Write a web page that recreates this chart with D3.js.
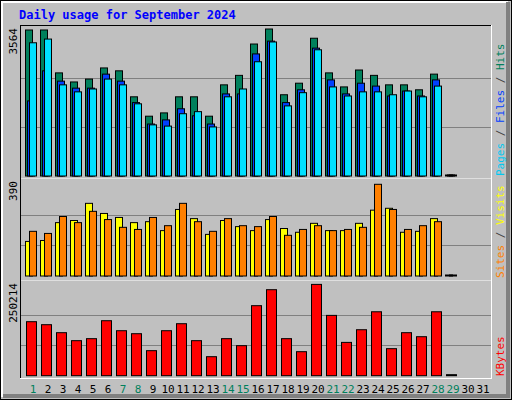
<!DOCTYPE html>
<html><head><meta charset="utf-8">
<script src="https://cdn.jsdelivr.net/npm/d3@7"></script>
<style>body{margin:0;background:#fff}svg{display:block}</style>
</head><body>
<svg width="512" height="400"></svg>
<script>
var days = d3.range(1, 32)
var weekend = [1, 7, 8, 14, 15, 21, 22, 28, 29]
var hits = [3540, 3540, 2500, 2280, 2350, 2620, 2550, 1920, 1450, 1530, 1920, 1920, 1450, 2210, 2440, 3200, 3564, 1970, 2250, 3340, 2500, 2160, 2570, 2440, 2210, 2210, 2090, 2470, 0]
var files = [1820, 2550, 2300, 2130, 2130, 2470, 2300, 1780, 1260, 1360, 1630, 1460, 1260, 1990, 1990, 2960, 3270, 1780, 2090, 3100, 2330, 1990, 2250, 2180, 1940, 2060, 1940, 2330, 0]
var pages = [3230, 3320, 2210, 2040, 2110, 2350, 2210, 1750, 1240, 1210, 1510, 1560, 1190, 1920, 2110, 2770, 3250, 1700, 2020, 3060, 2160, 1940, 2040, 2040, 1970, 2060, 1920, 2180, 0]
var visits = [147, 151, 227, 236, 309, 266, 249, 227, 231, 193, 283, 244, 177, 236, 210, 193, 240, 202, 186, 224, 193, 193, 224, 280, 288, 186, 190, 244, 0]
var sites = [190, 181, 253, 227, 275, 240, 207, 198, 249, 214, 309, 231, 190, 244, 214, 210, 253, 173, 198, 214, 193, 198, 207, 390, 283, 198, 214, 231, 0]
var kbytes = [148000, 139800, 117900, 96000, 101500, 150700, 123300, 115100, 68600, 123300, 142500, 96000, 52100, 101500, 82300, 191900, 235700, 101500, 65800, 250214, 165300, 91300, 126000, 175200, 74100, 117900, 106900, 175200, 0]
var yLabels = ["3564", "390", "250214"]

var svg = d3.select("svg")
var font = "'DejaVu Sans Mono', monospace"

// frame, 3d look
svg.append("rect").attr("x", 0.5).attr("y", 0.5).attr("width", 511).attr("height", 399).attr("fill", "#c0c0c0").attr("stroke", "#000")
svg.append("path").attr("d", "M2,397V2H508").attr("fill", "none").attr("stroke", "#fff").attr("stroke-width", 2)
svg.append("path").attr("d", "M508,2V396H3").attr("fill", "none").attr("stroke", "#808080").attr("stroke-width", 4)

svg.append("text").attr("x", 19).attr("y", 19).attr("fill", "#0000ff").attr("font-family", font)
    .attr("font-weight", "bold").attr("font-size", 12).text("Daily usage for September 2024")

var x = d3.scaleLinear().domain([1, 32]).range([25, 25 + 15 * 31])

var panels = [
    {top: 25, bottom: 178, base: 176, max: 3564, span: 147, series: [[hits, "#00805c", 0, 7], [files, "#0040ff", 2, 7], [pages, "#00e0ff", 4, 7]],
     legend: [["Pages", "#00c8f0"], ["Files", "#0040ff"], ["Hits", "#00805c"]]},
    {top: 178, bottom: 280, base: 276, max: 390, span: 91.7, series: [[visits, "#ffff00", 0, 7], [sites, "#ff8000", 4, 7]],
     legend: [["Sites", "#ff8000"], ["Visits", "#ffff00"]]},
    {top: 280, bottom: 378, base: 375.7, max: 250214, span: 91.3, series: [[kbytes, "#ff0000", 1, 10]],
     legend: [["KBytes", "#ff0000"]]}
]

panels.forEach(function (p, k) {
    var y = d3.scaleLinear().domain([0, p.max]).range([p.base, p.base - p.span])
    svg.append("rect").attr("x", 20.5).attr("y", p.top + 0.5).attr("width", 471).attr("height", p.bottom - p.top)
        .attr("fill", "#c0c0c0").attr("stroke", k == 0 ? "#fff" : "none")
    // grid lines
    svg.append("g").selectAll("line").data([p.max / 3, p.max * 2 / 3]).enter().append("line")
        .attr("x1", 21).attr("x2", 491).attr("y1", d => Math.round(y(d)) + 0.5).attr("y2", d => Math.round(y(d)) + 0.5)
        .attr("stroke", "#808080")
    p.series.forEach(function (s) {
        svg.append("g").selectAll("rect").data(s[0]).enter().append("rect")
            .attr("x", (d, i) => x(i + 1) + s[2] + 0.5)
            .attr("y", d => d == 0 ? p.base - 1 : y(d))
            .attr("width", s[3])
            .attr("height", d => d == 0 ? 1 : p.base - y(d))
            .attr("fill", d => d == 0 ? "#000" : s[1]).attr("stroke", "#000")
    })
    svg.append("line").attr("x1", 20).attr("x2", 492).attr("y1", p.bottom + 0.5).attr("y2", p.bottom + 0.5).attr("stroke", "#fff")
    svg.append("text").attr("transform", "translate(17," + (p.top + 3) + ") rotate(-90)").attr("text-anchor", "end")
        .attr("font-family", font).attr("font-size", 11).attr("fill", "#000").text(yLabels[k])
    // rotated legend on the right
    var t = svg.append("text").attr("transform", "translate(504," + (p.bottom - 2) + ") rotate(-90)")
        .attr("font-family", font).attr("font-size", 11)
    p.legend.forEach(function (l, j) {
        if (j > 0) t.append("tspan").attr("fill", "#404040").text(" / ")
        t.append("tspan").attr("fill", l[1]).text(l[0])
    })
})
svg.append("line").attr("x1", 20.5).attr("x2", 20.5).attr("y1", 25).attr("y2", 378).attr("stroke", "#000")
svg.append("line").attr("x1", 20).attr("x2", 492).attr("y1", 25.5).attr("y2", 25.5).attr("stroke", "#000")
svg.append("line").attr("x1", 491.5).attr("x2", 491.5).attr("y1", 25).attr("y2", 378).attr("stroke", "#fff")

svg.append("g").selectAll("text").data(days).enter().append("text")
    .attr("x", d => x(d) + 8).attr("y", 393).attr("text-anchor", "middle")
    .attr("font-family", font).attr("font-size", 11)
    .attr("fill", d => weekend.includes(d) ? "#00805c" : "#000").text(d => d)
</script>
</body></html>
